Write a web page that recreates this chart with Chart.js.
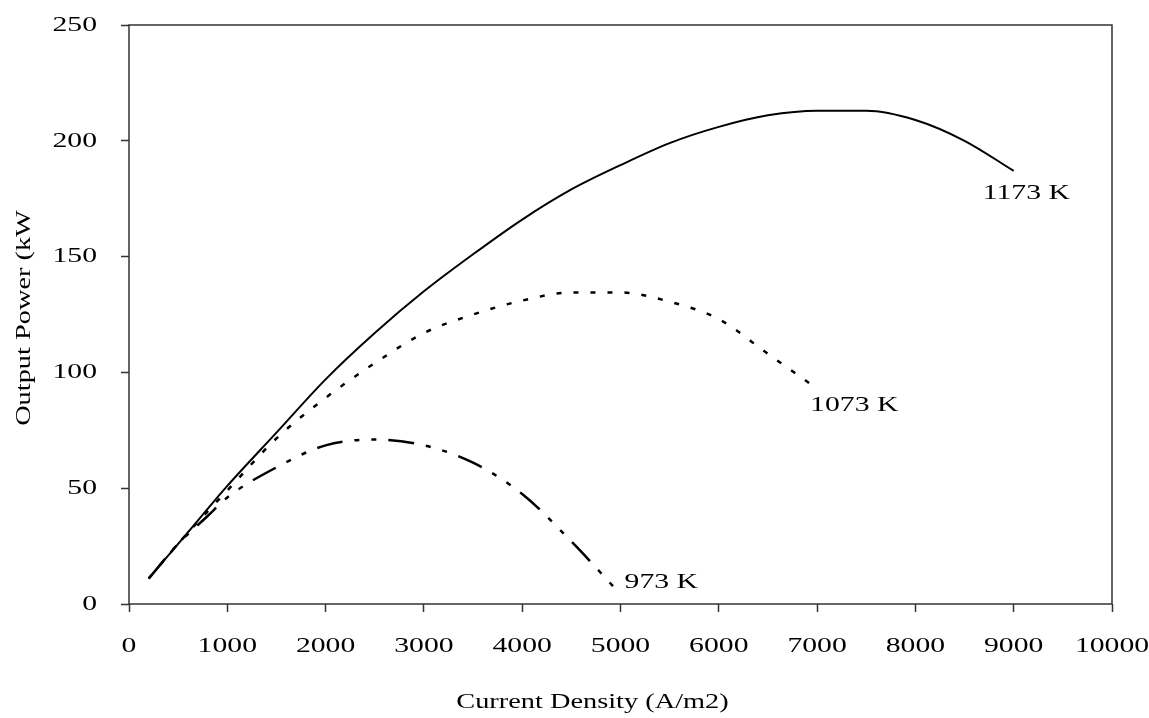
<!DOCTYPE html>
<html lang="en">
<head>
    <meta charset="utf-8">
    <title>Output Power vs Current Density</title>
    <style>
        body{margin:0;background:#fff;}
        .chart-box{width:1149px;height:718px;position:relative;}
    </style>
    <script src="https://cdn.jsdelivr.net/npm/chart.js@4.4.1/dist/chart.umd.min.js"></script>
</head>
<body>
    <div class="chart-box"><canvas id="powerChart"></canvas></div>
    <script>
        // tick values
        const xTicks = [0,1000,2000,3000,4000,5000,6000,7000,8000,9000,10000];
        const yTicks = [0,50,100,150,200,250];

        // 1173 K
        const cd1173 = [200,500,700,1000,1500,2000,2500,3000,3500,4000,4500,5000,5500,6000,6500,7000,7500,8000,8500,9000];
        const pw1173 = [11,26,36,51,74,97,117,135,151,166,179,189.5,199,206,211,213,213,209,200,187];
        // 1073 K
        const cd1073 = [200,500,800,1000,1500,2000,2500,3000,3500,4000,4500,5000,5500,6000,6500,7000];
        const pw1073 = [11,26,40,49,71.5,89,104,117,125,131,134.5,134.5,130.5,123,108,93];
        // 973 K
        const cd973 = [200,500,800,1000,1500,2000,2500,3000,3500,4000,4500,4950];
        const pw973 = [11,26,38,46,59,68.5,71,68.5,61,47.5,27,6.5];

        const seriesNames = ['1173 K','1073 K','973 K'];

        const FONT = '"Liberation Serif", "Times New Roman", serif';
        const STRETCH = 1.35;

        function pts(xs, ys) {
            return xs.map((x, i) => ({x: x, y: ys[i]}));
        }

        function stretchedText(ctx, txt, x, y, align) {
            ctx.save();
            ctx.translate(x, y);
            ctx.scale(STRETCH, 1);
            ctx.textAlign = align;
            ctx.fillText(txt, 0, 0);
            ctx.restore();
        }

        // offsets of the end labels from the last point of each series
        const labelOffsets = [[-31, 22], [-7, 17], [9, -7]];

        const textPlugin = {
            id: 'textPlugin',
            afterDraw(chart) {
                const ctx = chart.ctx;
                const xs = chart.scales.x, ys = chart.scales.y;
                const a = chart.chartArea;
                ctx.save();
                // frame
                ctx.strokeStyle = '#333';
                ctx.lineWidth = 1.5;
                ctx.strokeRect(a.left, a.top, a.right - a.left, a.bottom - a.top);

                ctx.fillStyle = '#000';
                ctx.textBaseline = 'middle';
                ctx.font = '22px ' + FONT;
                yTicks.forEach(v => stretchedText(ctx, String(v), a.left - 32, ys.getPixelForValue(v), 'right'));
                xTicks.forEach(v => stretchedText(ctx, String(v), xs.getPixelForValue(v), 646, 'center'));

                // axis titles
                ctx.font = '21px ' + FONT;
                stretchedText(ctx, 'Current Density (A/m2)', (a.left + a.right) / 2 - 28, 702, 'center');
                ctx.save();
                ctx.translate(24, 318);
                ctx.rotate(-Math.PI / 2);
                ctx.scale(STRETCH, 1);
                ctx.textAlign = 'center';
                ctx.fillText('Output Power (kW', 0, 0);
                ctx.restore();

                // series end labels
                ctx.font = '22px ' + FONT;
                chart.data.datasets.forEach((ds, i) => {
                    const last = ds.data[ds.data.length - 1];
                    const px = xs.getPixelForValue(last.x) + labelOffsets[i][0];
                    const py = ys.getPixelForValue(last.y) + labelOffsets[i][1];
                    stretchedText(ctx, seriesNames[i], px, py, 'left');
                });
                ctx.restore();
            }
        };

        new Chart(document.getElementById('powerChart').getContext('2d'), {
            type: 'line',
            data: {
                datasets: [
                    {
                        label: seriesNames[0],
                        data: pts(cd1173, pw1173),
                        borderColor: '#000',
                        borderWidth: 2,
                        pointRadius: 0,
                        cubicInterpolationMode: 'monotone'
                    },
                    {
                        label: seriesNames[1],
                        data: pts(cd1073, pw1073),
                        borderColor: '#000',
                        borderWidth: 2.5,
                        borderDash: [5, 12],
                        pointRadius: 0,
                        cubicInterpolationMode: 'monotone'
                    },
                    {
                        label: seriesNames[2],
                        data: pts(cd973, pw973),
                        borderColor: '#000',
                        borderWidth: 2.5,
                        borderDash: [26, 12, 5, 12, 5, 12],
                        pointRadius: 0,
                        cubicInterpolationMode: 'monotone'
                    }
                ]
            },
            options: {
                responsive: true,
                maintainAspectRatio: false,
                animation: false,
                layout: {padding: {left: 121, right: 37, top: 25, bottom: 106}},
                plugins: {legend: {display: false}, tooltip: {enabled: false}},
                scales: {
                    x: {
                        type: 'linear',
                        min: 0,
                        max: 10000,
                        ticks: {display: false, stepSize: 1000},
                        border: {display: false},
                        grid: {drawOnChartArea: false, drawTicks: true, tickLength: 8, tickColor: '#333', tickWidth: 1.5}
                    },
                    y: {
                        min: 0,
                        max: 250,
                        ticks: {display: false, stepSize: 50},
                        border: {display: false},
                        grid: {drawOnChartArea: false, drawTicks: true, tickLength: 8, tickColor: '#333', tickWidth: 1.5}
                    }
                }
            },
            plugins: [textPlugin]
        });
    </script>
</body>
</html>
